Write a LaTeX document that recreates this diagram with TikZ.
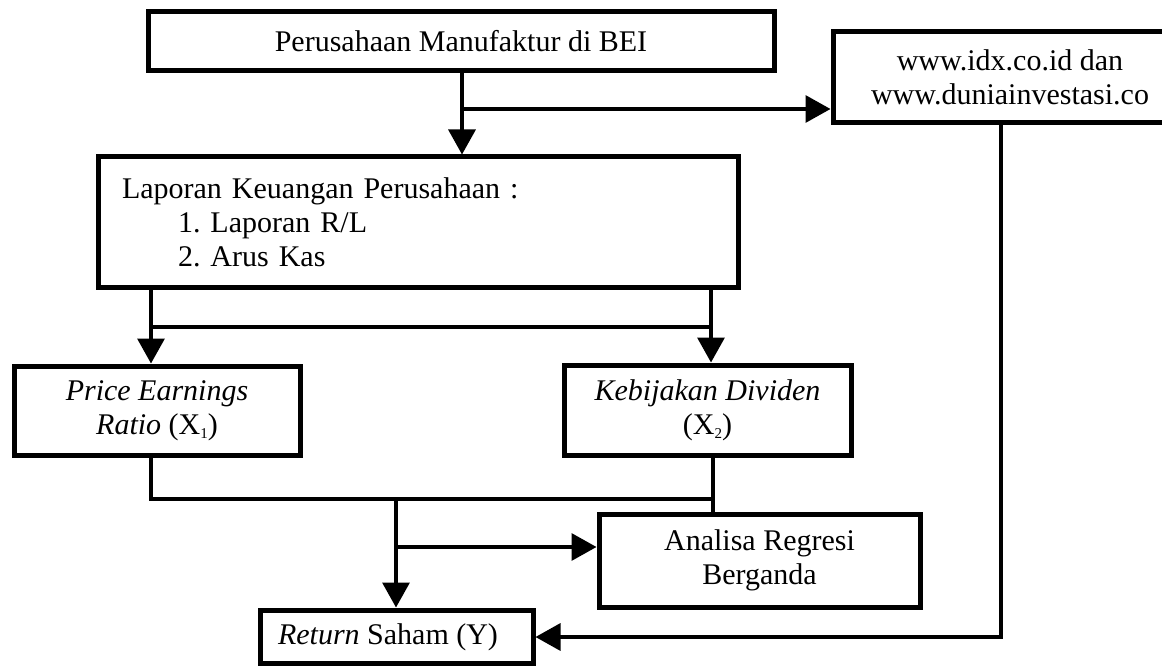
\documentclass[tikz,border=0pt]{standalone}
\usepackage{fontspec}
\setmainfont{Liberation Serif}
\usetikzlibrary{arrows.meta}
\newcommand{\mysub}[1]{\raisebox{-4pt}{\fontsize{15}{15}\selectfont #1}}
\begin{document}
\frenchspacing
\begin{tikzpicture}[x=1pt,y=-1pt,
  box/.style={draw=black,line width=5pt,fill=white,inner sep=0pt,align=center,
    font=\fontsize{30}{34}\selectfont},
  conn/.style={draw=black,line width=3.3pt},
  arr/.style={conn,-{Triangle[width=27pt,length=25pt]}}]
\clip (0,0) rectangle (1162,666);
\fill[white] (0,0) rectangle (1162,666);
% boxes
\node[box,minimum width=626pt,minimum height=59pt] (b1) at (461,41.5) {Perusahaan Manufaktur di BEI};
\node[box,minimum width=354pt,minimum height=91pt] (b2) at (1010,77.5) {www.idx.co.id dan\\www.duniainvestasi.co};
\node[box,align=left,text width=592pt,inner xsep=24pt,minimum height=130pt] (b3) at (418,222)
  {Laporan Keuangan Perusahaan :\\\hspace*{56pt}1. Laporan R/L\\\hspace*{56pt}2. Arus Kas};
\node[box,minimum width=286pt,minimum height=89pt] (b4) at (157,410.5) {\textit{Price Earnings}\\\textit{Ratio} (X\mysub{1})};
\node[box,minimum width=287pt,minimum height=90pt] (b5) at (707.5,410) {\textit{Kebijakan Dividen}\\(X\mysub{2})};
\node[box,minimum width=321pt,minimum height=93pt] (b6) at (759.5,560.5) {Analisa Regresi\\Berganda};
\node[box,minimum width=273pt,minimum height=53pt] (b7) at (396.5,636.5) {};
\node[font=\fontsize{30}{34}\selectfont,inner sep=0pt] (t7) at (388,637) {\textit{Return} Saham (Y)};
% junction coordinates
\coordinate (j1) at (462,109);
\coordinate (j2a) at (151,327);
\coordinate (j2b) at (711,327);
\coordinate (j3a) at (151,499);
\coordinate (j3b) at (713,499);
\coordinate (j3c) at (396,499);
\coordinate (j4) at (396,547);
\coordinate (j5) at (1001,637);
% connectors
\draw[arr] (b1.south -| j1) -- (b3.north -| j1);
\draw[arr] (j1) -- (b2.west |- j1);
\draw[conn] (b3.south -| j2a) -- (j2a) -- (j2b) -- (b3.south -| j2b);
\draw[arr] (j2a) -- (b4.north -| j2a);
\draw[arr] (j2b) -- (b5.north -| j2b);
\draw[conn] (b4.south -| j3a) -- (j3a) -- (j3b);
\draw[conn] (b5.south -| j3b) -- (b6.north -| j3b);
\draw[arr] (j3c) -- (b7.north -| j3c);
\draw[arr] (j4) -- (b6.west |- j4);
\draw[arr] (b2.south -| j5) -- (j5) -- (b7.east |- j5);
\end{tikzpicture}
\end{document}
